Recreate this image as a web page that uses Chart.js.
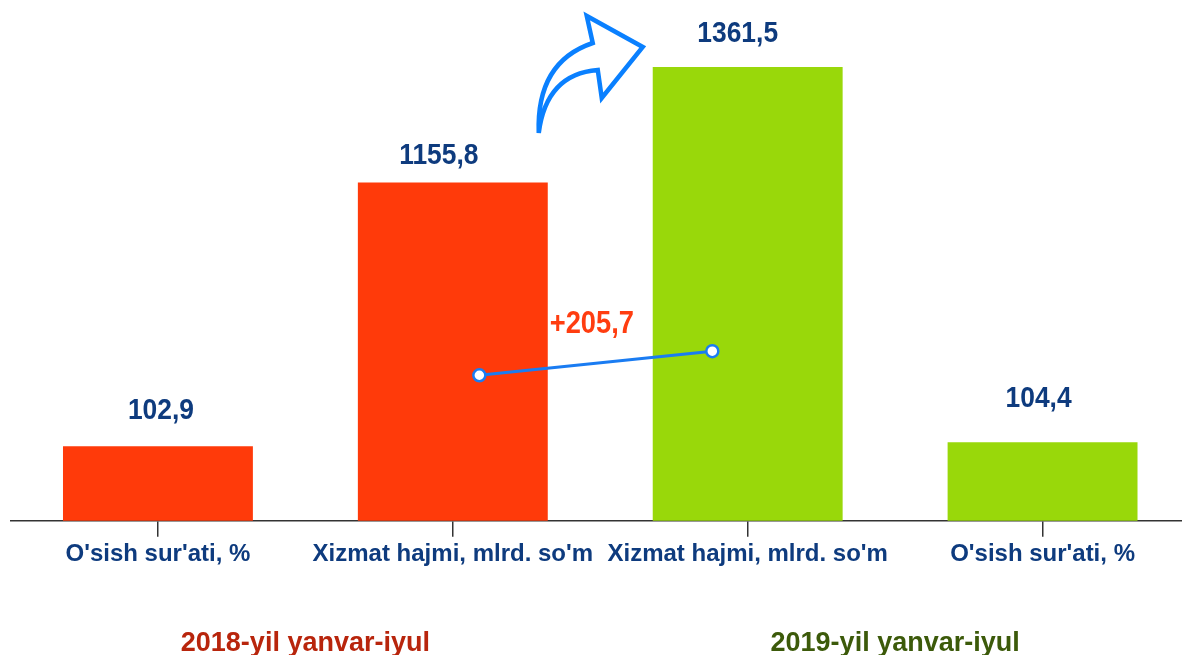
<!DOCTYPE html>
<html>
<head>
<meta charset="utf-8">
<script src="https://cdn.jsdelivr.net/npm/chart.js@4/dist/chart.umd.min.js"></script>
<style>
  html, body { margin: 0; padding: 0; background: #ffffff; overflow: hidden; }
  #wrap { width: 1190px; height: 718px; }
</style>
</head>
<body>
<div id="wrap"><canvas id="c" width="1190" height="718"></canvas></div>
<script>
// ---- data ----
const categories = ["O'sish sur'ati, %", "Xizmat hajmi, mlrd. so'm", "Xizmat hajmi, mlrd. so'm", "O'sish sur'ati, %"];
const periods = ["2018-yil yanvar-iyul", "2019-yil yanvar-iyul"];
const growthRate = [102.9, null, null, 104.4];
const serviceVolume = [null, 1155.8, 1361.5, null];
const volumeLink = [1155.8, 1361.5];

// ---- styles ----
const RED = '#FF3A0A';
const GREEN = '#99D80A';
const NAVY = '#0E3B7E';
const barColors = [RED, RED, GREEN, GREEN];
const periodColors = ['#B8250C', '#3C5A0A'];
const LINE_BLUE = '#1A7CF2';
const linkX = [1.09, 1.88];          // horizontal placement of the link points (category units)
const labelGap = [27, 19, 25, 35];   // distance of value labels above bars
const labelDx = [3, -14, -10, -4];
const FONT = '"Liberation Sans", Arial, sans-serif';

const fmt = v => String(v).replace('.', ',');

function narrowText(ctx, text, x, y, size, color, squeeze) {
  ctx.save();
  ctx.font = 'bold ' + size + 'px ' + FONT;
  ctx.fillStyle = color;
  ctx.textAlign = 'center';
  ctx.textBaseline = 'alphabetic';
  ctx.translate(x, y);
  ctx.scale(squeeze, 1);
  ctx.fillText(text, 0, 0);
  ctx.restore();
}

const annotations = {
  id: 'annotations',
  afterDatasetsDraw(chart) {
    const ctx = chart.ctx;
    // value labels on bars
    [0, 1].forEach(di => {
      const meta = chart.getDatasetMeta(di);
      const data = chart.data.datasets[di].data;
      meta.data.forEach((bar, i) => {
        if (data[i] == null) return;
        narrowText(ctx, fmt(data[i]), bar.x + labelDx[i], bar.y - labelGap[i], 30, NAVY, 0.88);
      });
    });
    // difference label above link line
    const lm = chart.getDatasetMeta(2).data;
    const mx = (lm[0].x + lm[1].x) / 2, my = (lm[0].y + lm[1].y) / 2;
    const diff = Math.round((volumeLink[1] - volumeLink[0]) * 10) / 10;
    narrowText(ctx, '+' + fmt(diff), mx - 4, my - 30, 31, '#FF3D10', 0.88);

    // curved arrow decoration
    const ax = chart.scales.x.getPixelForValue(1.5);
    const top = chart.chartArea.top;
    const P = (dx, dy) => [ax + dx, top + dy];
    ctx.save();
    ctx.strokeStyle = '#0A80FF';
    ctx.lineWidth = 4.5;
    ctx.lineJoin = 'miter';
    ctx.beginPath();
    let p;
    p = P(-61.5, 133); ctx.moveTo(p[0], p[1]);
    let c = P(-64, 62); p = P(-7.5, 43); ctx.quadraticCurveTo(c[0], c[1], p[0], p[1]);
    p = P(-13.5, 16); ctx.lineTo(p[0], p[1]);
    p = P(42.5, 47); ctx.lineTo(p[0], p[1]);
    p = P(1.5, 98); ctx.lineTo(p[0], p[1]);
    p = P(-2.5, 70); ctx.lineTo(p[0], p[1]);
    c = P(-54, 74); p = P(-61.5, 133); ctx.quadraticCurveTo(c[0], c[1], p[0], p[1]);
    ctx.closePath();
    ctx.stroke();
    ctx.restore();
  }
};

new Chart(document.getElementById('c'), {
  data: {
    labels: categories,
    datasets: [
      {
        type: 'bar',
        label: "O'sish sur'ati, %",
        data: growthRate,
        yAxisID: 'yRate',
        backgroundColor: barColors,
        grouped: false,
        categoryPercentage: 1,
        barPercentage: 0.644,
        order: 2
      },
      {
        type: 'bar',
        label: 'Xizmat hajmi, mlrd. so\'m',
        data: serviceVolume,
        yAxisID: 'yVol',
        backgroundColor: barColors,
        grouped: false,
        categoryPercentage: 1,
        barPercentage: 0.644,
        order: 2
      },
      {
        type: 'line',
        label: 'link',
        data: volumeLink.map((v, i) => ({ x: linkX[i], y: v })),
        xAxisID: 'xLink',
        yAxisID: 'yLink',
        borderColor: LINE_BLUE,
        borderWidth: 3,
        pointRadius: 6,
        pointBackgroundColor: '#ffffff',
        pointBorderColor: LINE_BLUE,
        pointBorderWidth: 2.5,
        order: 1
      }
    ]
  },
  options: {
    responsive: false,
    animation: false,
    layout: { autoPadding: false, padding: { left: 10.5, right: 0, top: 0, bottom: 2 } },
    plugins: { legend: { display: false }, tooltip: { enabled: false } },
    scales: {
      x: {
        type: 'category',
        position: 'bottom',
        offset: true,
        grid: { display: true, drawOnChartArea: false, drawTicks: true, tickLength: 16, offset: false, color: '#333333', lineWidth: 1.5 },
        border: { display: true, color: '#333333', width: 1.5 },
        ticks: {
          autoSkip: false, maxRotation: 0, minRotation: 0, padding: 3,
          color: NAVY,
          font: { family: FONT, size: 24, weight: 'bold' }
        }
      },
      xPeriod: {
        type: 'category',
        labels: periods,
        position: 'bottom',
        offset: true,
        grid: { display: false, drawTicks: false },
        border: { display: false },
        ticks: {
          autoSkip: false, maxRotation: 0, minRotation: 0, padding: 56,
          color: ctx => periodColors[ctx.index],
          font: { family: FONT, size: 27, weight: 'bold' }
        }
      },
      xLink: { type: 'linear', display: false, min: -0.5, max: 3.5 },
      yVol: { type: 'linear', display: false, min: 553, max: 1481 },
      yRate: { type: 'linear', display: false, min: 75, max: 270 },
      yLink: { type: 'linear', display: false, min: -87, max: 4360 }
    }
  },
  plugins: [annotations]
});
</script>
</body>
</html>
